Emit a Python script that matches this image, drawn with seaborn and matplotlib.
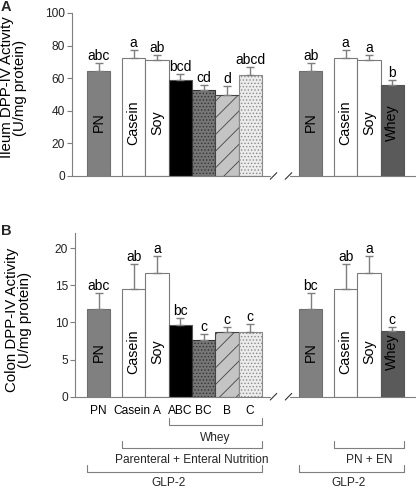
import numpy as np
import pandas as pd
import matplotlib
matplotlib.use("Agg")
import matplotlib.pyplot as plt
import matplotlib.transforms as mtransforms
import seaborn as sns

# ---------------- data ----------------
groups = ["PN", "Casein", "Soy", "ABC", "BC", "B", "C", "PN", "Casein", "Soy", "Whey"]
ileum_mean = [64.3, 72.3, 70.9, 58.6, 52.9, 49.4, 61.9, 64.3, 72.3, 70.9, 55.9]
ileum_sem = [5.0, 4.7, 3.5, 3.9, 2.8, 6.1, 4.9, 5.0, 4.7, 3.5, 2.7]
ileum_letters = ["abc", "a", "ab", "bcd", "cd", "d", "abcd", "ab", "a", "a", "b"]
colon_mean = [11.8, 14.5, 16.6, 9.6, 7.7, 8.7, 8.7, 11.8, 14.5, 16.6, 8.85]
colon_sem = [2.2, 3.4, 2.4, 1.0, 0.7, 0.7, 1.1, 2.2, 3.4, 2.4, 0.5]
colon_letters = ["abc", "ab", "a", "bc", "c", "c", "c", "bc", "ab", "a", "c"]
inner_labels = ["PN", "Casein", "Soy", "", "", "", "", "PN", "Casein", "Soy", "Whey"]
bottom_labels = ["PN", "Casein", "A", "ABC", "BC", "B", "C"]
ileum_ticks = [0, 20, 40, 60, 80, 100]
colon_ticks = [0, 5, 10, 15, 20]

# ---------------- layout / style ----------------
left_pos = [0.0] + list(1.5 + np.arange(6))
right_pos = list(9.1 + np.array([0.0, 1.5, 2.5, 3.5]))
pos = left_pos + right_pos
faces = ["#808080", "white", "white", "black", "#767676", "#c4c4c4", "#ececec",
         "#808080", "white", "white", "#5a5a5a"]
edges = ["#6e6e6e", "#7a7a7a", "#7a7a7a", "#555555", "#333333", "#444444", "#8a8a8a",
         "#6e6e6e", "#7a7a7a", "#7a7a7a", "#555555"]
hatches = [None, None, None, None, ".....", "//", ".....", None, None, None, None]
GRAY = "#7f7f7f"

sns.set_theme(style="white")
plt.rcParams["font.family"] = ["Liberation Sans", "DejaVu Sans"]
plt.rcParams["hatch.linewidth"] = 0.6

fig = plt.figure(figsize=(4.16, 4.88), dpi=100)
W, H = 416.0, 488.0
pxu = 23.31  # px per data unit
x0px = 87 + 0.5 * pxu  # px of data x=0


def px2x(px):
    return (px - x0px) / pxu


axA = fig.add_axes([72 / W, 1 - 176 / H, 344 / W, 163 / H])
axB = fig.add_axes([75 / W, 1 - 396.7 / H, 341 / W, 163.4 / H])


def panel(ax, mean, sem, letters, ticks, ylim, ylabel, inner_y, left_px):
    df = pd.DataFrame({"pos": pos, "value": mean, "group": groups})
    sns.barplot(data=df, x="pos", y="value", native_scale=True, width=1.0,
                errorbar=None, color="white", ax=ax, linewidth=0.8, zorder=2)
    for p in ax.patches:
        cx = p.get_x() + p.get_width() / 2
        i = int(np.argmin([abs(cx - q) for q in pos]))
        p.set_facecolor(faces[i])
        p.set_edgecolor(edges[i])
        p.set_linewidth(0.8)
        if hatches[i]:
            p.set_hatch(hatches[i])
    ax.errorbar(pos, mean, yerr=[np.zeros(len(sem)), sem], fmt="none",
                ecolor=GRAY, elinewidth=1.0, capsize=3, capthick=1.0, zorder=3)
    for x, m, s, t in zip(pos, mean, sem, letters):
        ax.annotate(t, (x, m + s), xytext=(0, 0), textcoords="offset points",
                    ha="center", va="bottom", fontsize=10, color="black")
    for x, t in zip(pos, inner_labels):
        if t:
            ax.text(x, inner_y, t, rotation=90, ha="center", va="center",
                    fontsize=10.3, color="black", zorder=4)
    ax.set_xlim(px2x(left_px), px2x(416))
    ax.set_ylim(*ylim)
    ax.set_yticks(ticks)
    ax.set_yticklabels([str(t) for t in ticks])
    ax.tick_params(axis="y", direction="out", length=3.5, width=0.8, color=GRAY,
                   labelsize=8.6, pad=1.5, left=True, labelcolor="#222222")
    for s in ["top", "right", "bottom"]:
        ax.spines[s].set_visible(False)
    ax.spines["left"].set_color(GRAY)
    ax.spines["left"].set_linewidth(0.8)
    ax.set_ylabel(ylabel, fontsize=10.8, linespacing=0.92, color="black")
    ax.set_xlabel("")
    # broken x axis
    tr = mtransforms.blended_transform_factory(ax.transData, ax.transAxes)
    ax.plot([px2x(left_px), px2x(270)], [0, 0], color=GRAY, lw=0.8,
            transform=tr, clip_on=False, zorder=5)
    ax.plot([px2x(290), px2x(416)], [0, 0], color=GRAY, lw=0.8,
            transform=tr, clip_on=False, zorder=5)
    hh = 3.3 / 163.0
    for bx in [px2x(273.5), px2x(288.5)]:
        ax.plot([bx - 0.14, bx + 0.14], [-hh, hh], color="#333333", lw=0.8,
                transform=tr, clip_on=False, zorder=5)
    return tr


trA = panel(axA, ileum_mean, ileum_sem, ileum_letters, ileum_ticks, (0, 100),
            "Ileum DPP-IV Activity\n(U/mg protein)", 33, 72)
axA.set_xticks([])
axA.yaxis.set_label_coords(-0.131, 0.543)

trB = panel(axB, colon_mean, colon_sem, colon_letters, colon_ticks, (0, 22),
            "Colon DPP-IV Activity\n(U/mg protein)", 6.0, 75)
axB.yaxis.set_label_coords(-0.126, 0.47)
axB.set_xticks(left_pos)
axB.set_xticklabels(bottom_labels, fontsize=8.6)
axB.tick_params(axis="x", length=0, pad=6, labelcolor="black")
# small nudge so "Casein" and "A" read as separate words
for lab in axB.get_xticklabels():
    if lab.get_text() == "Casein":
        lab.set_transform(lab.get_transform() +
                          mtransforms.ScaledTranslation(-2 / 100, 0, fig.dpi_scale_trans))

fig.text(0.002, 0.999, "A", fontsize=10.5, fontweight="bold", ha="left", va="top")
fig.text(0.002, 1 - 224 / H, "B", fontsize=10.5, fontweight="bold", ha="left", va="top")


# brackets under panel B
def ay(py):
    return (396.7 - py) / 163.4


def bracket(x1, x2, py, tick=7):
    axB.plot([x1, x1, x2, x2], [ay(py - tick), ay(py), ay(py), ay(py - tick)],
             color=GRAY, lw=0.8, transform=trB, clip_on=False)


def label(x, py, t):
    axB.text(x, ay(py), t, ha="center", va="center", fontsize=8.6,
             transform=trB, clip_on=False)


half = 0.5
bracket(left_pos[3] - half, left_pos[6] + half, 425)
label((left_pos[3] + left_pos[6]) / 2, 438, "Whey")
bracket(left_pos[1] - half, left_pos[6] + half, 448)
label((left_pos[1] + left_pos[6]) / 2, 460, "Parenteral + Enteral Nutrition")
bracket(left_pos[0] - half, left_pos[6] + half, 472)
label(3.0, 483, "GLP-2")
bracket(right_pos[1] - half, right_pos[3] + half, 448)
label((right_pos[1] + right_pos[3]) / 2, 460, "PN + EN")
bracket(right_pos[0] - half, right_pos[3] + half, 472)
label(10.7, 483, "GLP-2")

fig.savefig("out.png", dpi=100)
